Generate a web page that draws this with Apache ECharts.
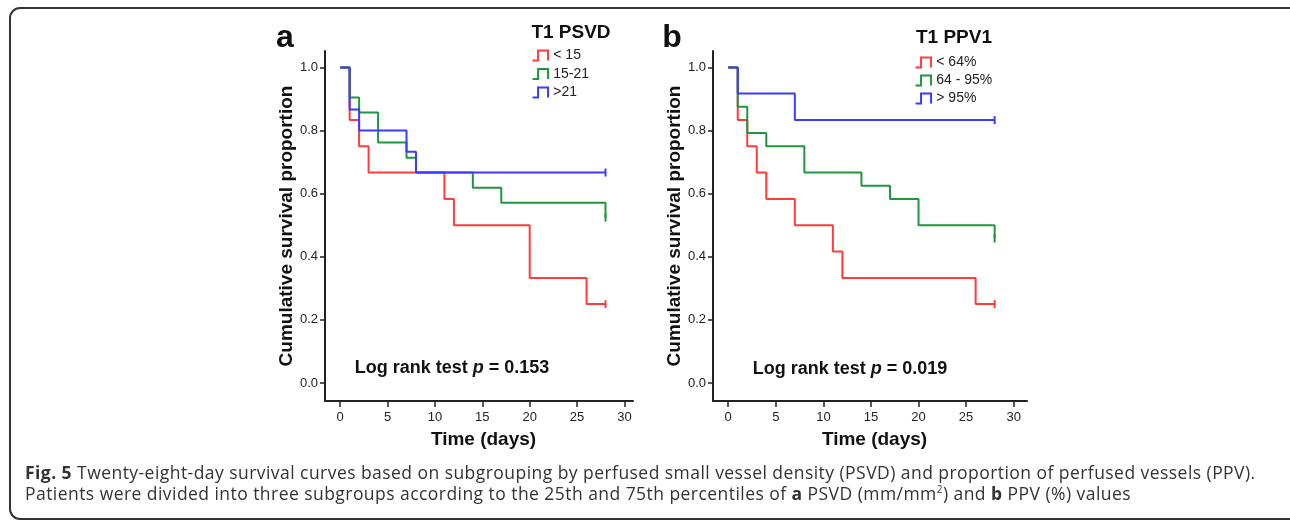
<!DOCTYPE html>
<html>
<head>
<meta charset="utf-8">
<script src="https://cdn.jsdelivr.net/npm/echarts@6/dist/echarts.min.js"></script>
<style>
  html, body { margin: 0; padding: 0; background: #fff; }
  #wrap { position: relative; width: 1290px; height: 521px; overflow: hidden; }
  #frame { position: absolute; left: 9px; top: 7px; width: 1290px; height: 509px;
           border: 2px solid #333; border-radius: 11px; }
  #chart { position: absolute; left: 0; top: 0; width: 1290px; height: 521px; }
  #cap { position: absolute; left: 25px; top: 462px; font-family: "Open Sans", sans-serif;
         font-size: 17.5px; letter-spacing: 0.45px; line-height: 21px; color: #333; white-space: nowrap; }
  #cap b { font-weight: 700; }
  #cap sup { font-size: 10px; line-height: 0; }
</style>
</head>
<body>
<div id="wrap">
  <div id="frame"></div>
  <div id="chart"></div>
  <div id="cap"><b>Fig. 5</b> Twenty-eight-day survival curves based on subgrouping by perfused small vessel density (PSVD) and proportion of perfused vessels (PPV).<br>Patients were divided into three subgroups according to the 25th and 75th percentiles of <b>a</b> PSVD (mm/mm<sup>2</sup>) and <b>b</b> PPV (%) values</div>
</div>
<script>
// ticks
const xTicks = [0, 5, 10, 15, 20, 25, 30]
const yTicks = [0, 0.2, 0.4, 0.6, 0.8, 1.0]

// panel a : T1 PSVD
const aNames = ['< 15', '15-21', '>21']
const aLowT = [0, 1, 2, 3, 11, 12, 20, 26, 28]
const aLowS = [1, 0.833, 0.75, 0.667, 0.583, 0.5, 0.333, 0.25, 0.25]
const aMidT = [0, 1, 2, 4, 7, 8, 14, 17, 28]
const aMidS = [1, 0.905, 0.857, 0.762, 0.714, 0.667, 0.619, 0.571, 0.524]
const aHighT = [0, 1, 2, 7, 8, 28]
const aHighS = [1, 0.867, 0.8, 0.733, 0.667, 0.667]

// panel b : T1 PPV1
const bNames = ['< 64%', '64 - 95%', '> 95%']
const bLowT = [0, 1, 2, 3, 4, 7, 11, 12, 26, 28]
const bLowS = [1, 0.833, 0.75, 0.667, 0.583, 0.5, 0.417, 0.333, 0.25, 0.25]
const bMidT = [0, 1, 2, 4, 8, 14, 17, 20, 28]
const bMidS = [1, 0.875, 0.792, 0.75, 0.667, 0.625, 0.583, 0.5, 0.458]
const bHighT = [0, 1, 7, 28]
const bHighS = [1, 0.917, 0.833, 0.833]

const colors = ['#ff3b3b', '#1f963f', '#3b3bff']
const FONT = '"Liberation Sans", Arial, sans-serif'

// last point gets the censor tick
function km (times, surv, color) {
  return times.map((t, i) => {
    const item = { value: [t, surv[i]] }
    if (i === times.length - 1) {
      item.symbol = 'rect'
      item.symbolSize = [2, 8]
      item.itemStyle = { color: color }
    }
    return item
  })
}

function series (name, idx, times, surv, color) {
  return {
    name: name,
    type: 'line',
    step: 'end',
    xAxisIndex: idx,
    yAxisIndex: idx,
    symbol: 'none',
    showSymbol: true,
    animation: false,
    color: color,
    lineStyle: { color: color, width: 2 },
    data: km(times, surv, color)
  }
}

function xAxis (idx, max) {
  return {
    type: 'value', gridIndex: idx, min: -1.6, max: max,
    name: 'Time (days)', nameLocation: 'middle', nameGap: 29,
    nameTextStyle: { fontFamily: FONT, fontWeight: 'bold', fontSize: 19, color: '#111', padding: [0, 0, 0, 9] },
    splitLine: { show: false },
    axisLine: { onZero: false, lineStyle: { color: '#222', width: 2 } },
    axisTick: { show: true, length: 6, customValues: xTicks, lineStyle: { color: '#222', width: 1.5 } },
    axisLabel: { customValues: xTicks, margin: 10, fontFamily: FONT, fontSize: 13, color: '#222' }
  }
}

function yAxis (idx) {
  return {
    type: 'value', gridIndex: idx, min: -0.057, max: 1.052,
    name: 'Cumulative survival proportion', nameLocation: 'middle', nameGap: 27,
    nameTextStyle: { fontFamily: FONT, fontWeight: 'bold', fontSize: 19, color: '#111' },
    splitLine: { show: false },
    axisLine: { onZero: false, lineStyle: { color: '#222', width: 2 } },
    axisTick: { show: true, length: 5, customValues: yTicks, lineStyle: { color: '#222', width: 1.5 } },
    axisLabel: { customValues: yTicks, margin: 7, fontFamily: FONT, fontSize: 13, color: '#222',
      formatter: v => v.toFixed(1) }
  }
}

function legend (names, left, top, gap) {
  return {
    orient: 'vertical', left: left, top: top, padding: 0, itemGap: gap,
    itemWidth: 16, itemHeight: 10, selectedMode: false,
    icon: 'path://M0,9 L5,9 L5,0 L14,0 L14,9',
    textStyle: { fontFamily: FONT, fontSize: 14, color: '#222' },
    data: names.map((n, i) => ({
      name: n,
      itemStyle: { color: 'none', borderColor: colors[i], borderWidth: 2 }
    }))
  }
}

function label (text, x, y, size) {
  return {
    type: 'text', x: x, y: y,
    style: { text: text, fontFamily: FONT, fontWeight: 'bold', fontSize: size, fill: '#111',
      align: 'center', verticalAlign: 'middle' }
  }
}

function logRank (p, x, y) {
  return {
    type: 'text', x: x, y: y,
    style: {
      text: '{n|Log rank test }{i|p}{n| = ' + p + '}',
      align: 'center', verticalAlign: 'middle',
      rich: {
        n: { fontFamily: FONT, fontWeight: 'bold', fontSize: 18, fill: '#111' },
        i: { fontFamily: FONT, fontWeight: 'bold', fontStyle: 'italic', fontSize: 18, fill: '#111' }
      }
    }
  }
}

const chart = echarts.init(document.getElementById('chart'), null, { renderer: 'canvas' })
chart.setOption({
  animation: false,
  grid: [
    { left: 325, top: 51, width: 308, height: 350 },
    { left: 713, top: 51, width: 314, height: 350 }
  ],
  xAxis: [xAxis(0, 30.9), xAxis(1, 31.4)],
  yAxis: [yAxis(0), yAxis(1)],
  legend: [legend(aNames, 530, 48, 3.5), legend(bNames, 913, 55, 3)],
  graphic: [
    label('a', 285, 38, 32),
    label('b', 672, 38, 32),
    label('T1 PSVD', 571, 33, 19),
    label('T1 PPV1', 954, 38, 19),
    logRank('0.153', 452, 368),
    logRank('0.019', 850, 369)
  ],
  series: [
    series(aNames[0], 0, aLowT, aLowS, colors[0]),
    series(aNames[1], 0, aMidT, aMidS, colors[1]),
    series(aNames[2], 0, aHighT, aHighS, colors[2]),
    series(bNames[0], 1, bLowT, bLowS, colors[0]),
    series(bNames[1], 1, bMidT, bMidS, colors[1]),
    series(bNames[2], 1, bHighT, bHighS, colors[2])
  ]
})
</script>
</body>
</html>
